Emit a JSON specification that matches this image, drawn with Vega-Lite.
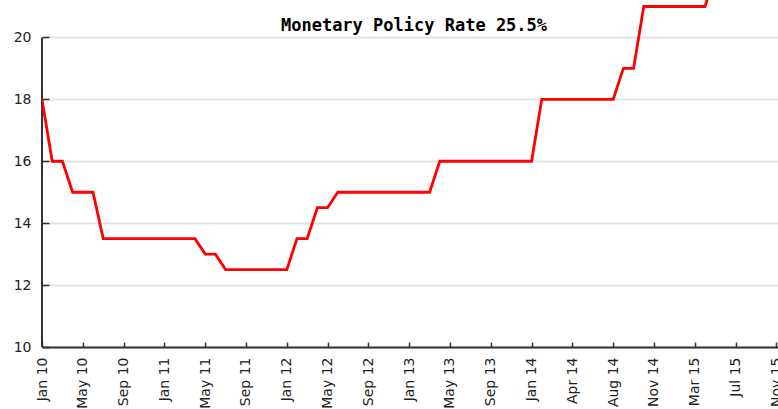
{
  "$schema": "https://vega.github.io/schema/vega-lite/v6.json",
  "width": 736,
  "height": 347,
  "autosize": {"type": "none"},
  "padding": {"left": 42, "top": 0, "right": 0, "bottom": 62},
  "background": "#ffffff",
  "config": {
    "view": {"stroke": null},
    "axis": {"labelFont": "DejaVu Sans", "labelFontSize": 14, "labelColor": "#222222", "title": null}
  },
  "title": {
    "text": "Monetary Policy Rate 25.5%",
    "font": "DejaVu Sans Mono",
    "fontSize": 17,
    "fontWeight": "bold",
    "color": "#000000",
    "anchor": "middle",
    "frame": "group",
    "baseline": "alphabetic",
    "offset": -48,
    "dx": 4
  },
  "layer": [
    {
      "data": {"values": [{"start": 0, "lo": 10, "hi": 20}]},
      "mark": {"type": "rule", "color": "#333333", "strokeWidth": 2},
      "encoding": {
        "x": {"field": "start", "type": "quantitative"},
        "y": {"field": "lo", "type": "quantitative"},
        "y2": {"field": "hi"}
      }
    },
    {
      "data": {
        "values": [
          {"idx": 0, "rate": 18},
          {"idx": 1, "rate": 16},
          {"idx": 2, "rate": 16},
          {"idx": 3, "rate": 15},
          {"idx": 5, "rate": 15},
          {"idx": 6, "rate": 13.5},
          {"idx": 15, "rate": 13.5},
          {"idx": 16, "rate": 13},
          {"idx": 17, "rate": 13},
          {"idx": 18, "rate": 12.5},
          {"idx": 24, "rate": 12.5},
          {"idx": 25, "rate": 13.5},
          {"idx": 26, "rate": 13.5},
          {"idx": 27, "rate": 14.5},
          {"idx": 28, "rate": 14.5},
          {"idx": 29, "rate": 15},
          {"idx": 38, "rate": 15},
          {"idx": 39, "rate": 16},
          {"idx": 48, "rate": 16},
          {"idx": 49, "rate": 18},
          {"idx": 56, "rate": 18},
          {"idx": 57, "rate": 19},
          {"idx": 58, "rate": 19},
          {"idx": 59, "rate": 21},
          {"idx": 65, "rate": 21},
          {"idx": 66, "rate": 22}
        ]
      },
      "mark": {"type": "line", "color": "#ff0000", "strokeWidth": 2.8, "clip": true, "strokeJoin": "miter"},
      "encoding": {
        "x": {
          "field": "idx",
          "type": "quantitative",
          "scale": {"domain": [0, 72.16], "nice": false, "zero": false},
          "axis": {
            "values": [0,1,2,3,4,5,6,7,8,9,10,11,12,13,14,15,16,17,18,19,20,21,22,23,24,25,26,27,28,29,30,31,32,33,34,35,36,37,38,39,40,41,42,43,44,45,46,47,48,49,50,51,52,53,54,55,56,57,58,59,60,61,62,63,64,65,66,67,68,69,70,71,72],
            "labelExpr": "datum.value % 4 == 0 ? ['Jan 10','May 10','Sep 10','Jan 11','May 11','Sep 11','Jan 12','May 12','Sep 12','Jan 13','May 13','Sep 13','Jan 14','Apr 14','Aug 14','Nov 14','Mar 15','Jul 15','Nov 15'][datum.value / 4] : ''",
            "labelAngle": 270,
            "labelAlign": "right",
            "labelBaseline": "middle",
            "labelPadding": 15,
            "labelOverlap": false,
            "labelFlush": false,
            "tickSize": -5,
            "tickColor": "#333333",
            "tickWidth": 1.5,
            "domainColor": "#333333",
            "domainWidth": 2,
            "grid": false
          }
        },
        "y": {
          "field": "rate",
          "type": "quantitative",
          "scale": {"domain": [10, 21.21], "nice": false, "zero": false},
          "axis": {
            "values": [10,11,12,13,14,15,16,17,18,19,20],
            "labelExpr": "datum.value % 2 == 0 ? datum.label : ''",
            "labelPadding": 18,
            "labelOverlap": false,
            "labelFlush": false,
            "domain": false,
            "tickSize": -7,
            "tickColor": "#333333",
            "tickWidth": 1.5,
            "grid": true,
            "gridColor": "#e3e3e3",
            "gridWidth": 2,
            "gridOpacity": {"condition": {"test": "datum.value % 2 == 1", "value": 0}, "value": 1}
          }
        }
      }
    }
  ]
}
